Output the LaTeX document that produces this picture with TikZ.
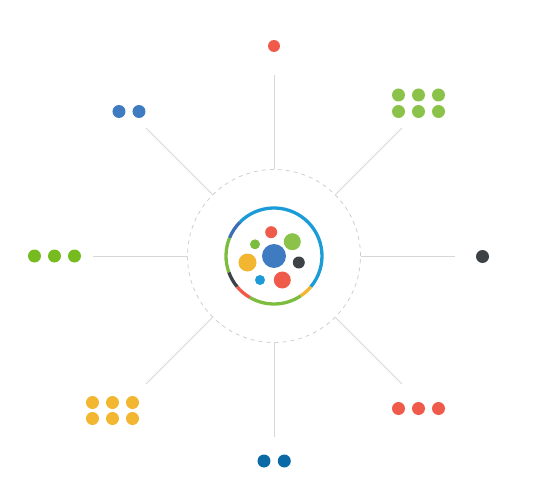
\documentclass[tikz,border=0pt]{standalone}
\usetikzlibrary{calc}
\definecolor{LineClr}{HTML}{D6D6D6}
\definecolor{DashClr}{HTML}{CFCFCF}
\definecolor{SkyClr}{HTML}{1B9BD7}
\definecolor{NavyClr}{HTML}{3C70B6}
\definecolor{BlueClr}{HTML}{3E7BC1}
\definecolor{DeepClr}{HTML}{0B69A6}
\definecolor{LeafClr}{HTML}{8BC34A}
\definecolor{GrassClr}{HTML}{76BC21}
\definecolor{RingGrn}{HTML}{7CBD3F}
\definecolor{RedClr}{HTML}{F05A4A}
\definecolor{GoldClr}{HTML}{F2B630}
\definecolor{InkClr}{HTML}{3D4247}

\begin{document}
\begin{tikzpicture}[scale=.3514]
\useasboundingbox (-27.4,-24.7) rectangle (27.2,25.6);

\coordinate (O) at (0,0);

% spokes
\foreach \a in {0,45,...,315}{
  \coordinate (A\a) at (\a:8.7);
  \coordinate (B\a) at (\a:18.1);
  \draw[line width=0.8pt,color=LineClr] (A\a) -- (B\a);
}

\draw[line width=0.8pt,color=DashClr,dash pattern=on 4pt off 4pt] (O) circle (8.65);

% ring
\foreach \s/\e/\c in {-40/135/SkyClr,135/158/NavyClr,158/200/RingGrn,200/220/InkClr,
  220/240/RedClr,240/304/RingGrn,304/320/GoldClr}{
  \draw[line width=3.3pt,color=\c] (\s:4.8) arc (\s:\e:4.8);
}

% inner bubbles
\fill[BlueClr] (O) circle (1.2);
\fill[RedClr] (-0.28,2.38) circle (0.6);
\fill[LeafClr] (1.83,1.43) circle (0.85);
\fill[RingGrn] (-1.9,1.17) circle (0.5);
\fill[GoldClr] (-2.65,-0.65) circle (0.9);
\fill[InkClr] (2.48,-0.65) circle (0.6);
\fill[SkyClr] (-1.4,-2.4) circle (0.5);
\fill[RedClr] (0.83,-2.4) circle (0.85);

% outer dots
\fill[RedClr] (0,21) circle (0.6);
\foreach \x in {-15.5,-13.5} \fill[BlueClr] (\x,14.45) circle (0.65);
\foreach \x in {12.45,14.45,16.45}{
  \fill[LeafClr] (\x,16.1) circle (0.65);
  \fill[LeafClr] (\x,14.45) circle (0.65);
}
\foreach \x in {-23.95,-21.95,-19.95} \fill[GrassClr] (\x,0) circle (0.65);
\fill[InkClr] (20.85,-0.05) circle (0.65);
\foreach \x in {-18.15,-16.15,-14.15}{
  \fill[GoldClr] (\x,-14.65) circle (0.65);
  \fill[GoldClr] (\x,-16.25) circle (0.65);
}
\foreach \x in {12.45,14.45,16.45} \fill[RedClr] (\x,-15.25) circle (0.65);
\foreach \x in {-1,1.03} \fill[DeepClr] (\x,-20.5) circle (0.65);

\end{tikzpicture}
\end{document}
